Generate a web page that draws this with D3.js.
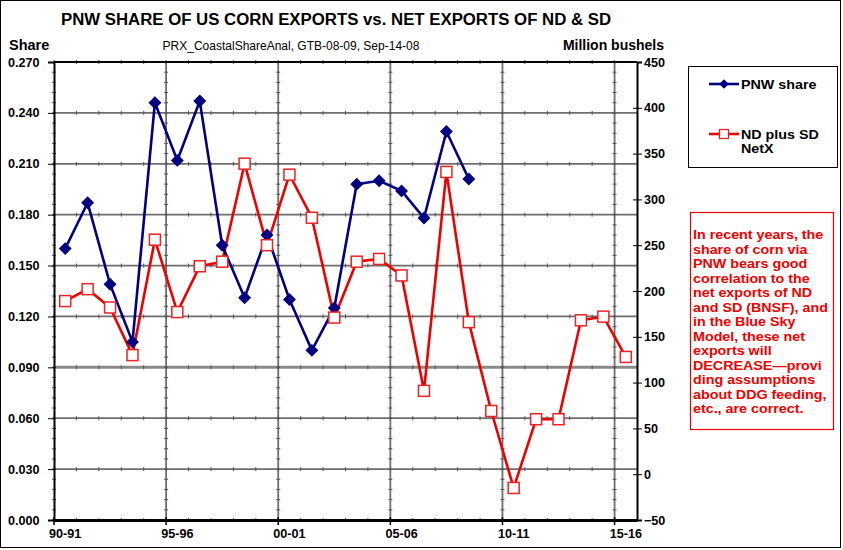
<!DOCTYPE html>
<html>
<head>
<meta charset="utf-8">
<script src="https://cdn.jsdelivr.net/npm/d3@7"></script>
<style>
  body { margin: 0; background: #fff; }
  svg { font-family: "Liberation Sans", Arial, sans-serif; }
</style>
</head>
<body>
<svg id="chart" width="843" height="550"></svg>
<script>
// crop years 90-91 .. 15-16
const years = ['90-91','91-92','92-93','93-94','94-95','95-96','96-97','97-98','98-99','99-00',
  '00-01','01-02','02-03','03-04','04-05','05-06','06-07','07-08','08-09','09-10',
  '10-11','11-12','12-13','13-14','14-15','15-16'];
const xLabels = ['90-91','95-96','00-01','05-06','10-11','15-16'];

// PNW share of US corn exports (left axis)
const pnwShare = [0.160, 0.187, 0.139, 0.105, 0.246, 0.212, 0.247, 0.162, 0.131, 0.168,
  0.130, 0.100, 0.125, 0.198, 0.200, 0.194, 0.178, 0.229, 0.201];

// ND plus SD net exports, million bushels (right axis)
const ndsdNetX = [189, 202, 182, 130, 256, 177, 227, 232, 339, 250,
  327, 280, 171, 232, 235, 217, 91, 330, 166, 69,
  -15, 60, 60, 168, 172, 128];

const leftTicks = d3.range(0, 0.2701, 0.03);
const rightTicks = d3.range(-50, 451, 50);

const noteLines = ['In recent years, the', 'share of corn via', 'PNW bears good', 'correlation to the',
  'net exports of ND', 'and SD (BNSF), and', 'in the Blue Sky', 'Model, these net', 'exports will',
  'DECREASE\u2014provi', 'ding assumptions', 'about DDG feeding,', 'etc., are correct.'];

const plotL = 54, plotR = 637, plotT = 62, plotB = 520;

const svg = d3.select('#chart');

// outer frame
svg.append('rect').attr('x', 0.5).attr('y', 0.5).attr('width', 840).attr('height', 547)
  .attr('fill', 'none').attr('stroke', '#000').attr('stroke-width', 1);

const x = d3.scaleBand().domain(years).range([plotL, plotR]).padding(0);
const yL = d3.scaleLinear().domain([0, 0.27]).range([plotB, plotT]);
const yR = d3.scaleLinear().domain([-50, 450]).range([plotB, plotT]);

// horizontal gridlines
svg.append('g').selectAll('line')
  .data(leftTicks.slice(1))
  .enter().append('line')
  .attr('x1', plotL).attr('x2', plotR)
  .attr('y1', d => yL(d)).attr('y2', d => yL(d))
  .attr('stroke', d => Math.abs(d - 0.09) < 1e-6 ? '#8a8a8a' : '#6e6e6e')
  .attr('stroke-width', d => Math.abs(d - 0.09) < 1e-6 ? 3 : 1.8);

// vertical gridlines at category boundaries
svg.append('g').selectAll('line')
  .data(xLabels.slice(1))
  .enter().append('line')
  .attr('x1', d => x(d)).attr('x2', d => x(d))
  .attr('y1', plotT).attr('y2', plotB)
  .attr('stroke', '#6e6e6e').attr('stroke-width', 1.8);

// small minor ticks along gridlines
const minor = svg.append('g').attr('stroke', '#555').attr('stroke-width', 1);
leftTicks.forEach(t => {
  years.forEach(yr => {
    minor.append('line').attr('x1', x(yr)).attr('x2', x(yr))
      .attr('y1', yL(t) - 2).attr('y2', yL(t) + 2);
  });
});
xLabels.forEach(l => {
  d3.range(0, 0.27, 0.006).forEach(v => {
    minor.append('line').attr('x1', x(l) - 2).attr('x2', x(l) + 2)
      .attr('y1', yL(v)).attr('y2', yL(v));
  });
});

// left axis
const axL = svg.append('g').attr('transform', `translate(${plotL},0)`)
  .call(d3.axisLeft(yL).tickValues(leftTicks).tickFormat(d3.format('.3f')).tickSize(6));
axL.select('.domain').attr('stroke-width', 2);
axL.selectAll('.tick text').attr('x', -46).attr('text-anchor', 'start')
  .style('font-size', '12.6px').style('font-weight', 'bold').attr('fill', '#000');

// right axis
const axR = svg.append('g').attr('transform', `translate(${plotR},0)`)
  .call(d3.axisRight(yR).tickValues(rightTicks).tickSize(5));
axR.select('.domain').attr('stroke-width', 2);
axR.selectAll('.tick line').attr('x1', -4);
axR.selectAll('.tick text').attr('x', 7)
  .style('font-size', '12.6px').style('font-weight', 'bold').attr('fill', '#000');

// top border
svg.append('line').attr('x1', plotL).attr('x2', plotR).attr('y1', plotT).attr('y2', plotT)
  .attr('stroke', '#000').attr('stroke-width', 2);

// bottom axis
const axB = svg.append('g').attr('transform', `translate(0,${plotB})`)
  .call(d3.axisBottom(x).tickValues(xLabels).tickSize(0));
axB.select('.domain').attr('stroke-width', 3);
axB.selectAll('.tick text').attr('y', 9)
  .style('font-size', '12.6px').style('font-weight', 'bold').attr('fill', '#000');
axB.selectAll('.tickmark').data(xLabels).enter().append('line')
  .attr('x1', d => x(d)).attr('x2', d => x(d)).attr('y1', -3).attr('y2', 5)
  .attr('stroke', '#000').attr('stroke-width', 1.5);

const cx = i => x(years[i]) + x.bandwidth() / 2;

// ND + SD line
svg.append('path').datum(ndsdNetX)
  .attr('fill', 'none').attr('stroke', '#ee0000').attr('stroke-width', 2.6)
  .attr('d', d3.line().x((d, i) => cx(i)).y(d => yR(d)));

// PNW share line
svg.append('path').datum(pnwShare)
  .attr('fill', 'none').attr('stroke', '#000080').attr('stroke-width', 2.6)
  .attr('d', d3.line().x((d, i) => cx(i)).y(d => yL(d)));

svg.append('g').selectAll('path')
  .data(pnwShare).enter().append('path')
  .attr('d', d3.symbol().type(d3.symbolSquare).size(66))
  .attr('transform', (d, i) => `translate(${cx(i)},${yL(d)}) rotate(45)`)
  .attr('fill', '#000080').attr('stroke', '#000080').attr('stroke-width', 1);

svg.append('g').selectAll('rect')
  .data(ndsdNetX).enter().append('rect')
  .attr('x', (d, i) => cx(i) - 5.5).attr('y', d => yR(d) - 5.5)
  .attr('width', 11).attr('height', 11)
  .attr('fill', '#fff').attr('stroke', '#ee2222').attr('stroke-width', 1.5);

// titles
svg.append('text').attr('x', 336).attr('y', 25).attr('text-anchor', 'middle')
  .style('font-size', '16.8px').style('font-weight', 'bold')
  .text('PNW SHARE OF US CORN EXPORTS vs. NET EXPORTS OF ND & SD');
svg.append('text').attr('x', 9).attr('y', 50)
  .style('font-size', '14.5px').style('font-weight', 'bold').text('Share');
svg.append('text').attr('x', 664).attr('y', 50).attr('text-anchor', 'end')
  .style('font-size', '14px').style('font-weight', 'bold').text('Million bushels');
svg.append('text').attr('x', 291).attr('y', 50).attr('text-anchor', 'middle')
  .style('font-size', '12px').text('PRX_CoastalShareAnal, GTB-08-09, Sep-14-08');

// legend
const lg = svg.append('g');
lg.append('rect').attr('x', 688.5).attr('y', 66.5).attr('width', 149).attr('height', 101)
  .attr('fill', '#fff').attr('stroke', '#000').attr('stroke-width', 1);
lg.append('line').attr('x1', 709).attr('x2', 739).attr('y1', 84).attr('y2', 84)
  .attr('stroke', '#000080').attr('stroke-width', 2.6);
lg.append('path').attr('d', d3.symbol().type(d3.symbolSquare).size(45))
  .attr('transform', 'translate(724,84) rotate(45)').attr('fill', '#000080');
lg.append('line').attr('x1', 709).attr('x2', 739).attr('y1', 134).attr('y2', 134)
  .attr('stroke', '#ee0000').attr('stroke-width', 2.6);
lg.append('rect').attr('x', 719.5).attr('y', 129.5).attr('width', 9).attr('height', 9)
  .attr('fill', '#fff').attr('stroke', '#ee2222').attr('stroke-width', 1.3);
[['PNW share', 89], ['ND plus SD', 139], ['NetX', 153]].forEach(([t, ty]) => {
  lg.append('text').attr('transform', `translate(741,${ty}) scale(1.1,1)`)
    .style('font-size', '13px').style('font-weight', 'bold').text(t);
});

// note box
svg.append('rect').attr('x', 690.5).attr('y', 212.5).attr('width', 143).attr('height', 217)
  .attr('fill', '#fff').attr('stroke', '#ee0000').attr('stroke-width', 1.2);
svg.append('g').selectAll('text')
  .data(noteLines).enter().append('text')
  .attr('transform', (d, i) => `translate(693,${239 + i * 14.5}) scale(1.1,1)`)
  .attr('fill', '#ee0000').style('font-size', '13px').style('font-weight', 'bold')
  .text(d => d);
</script>
</body>
</html>
